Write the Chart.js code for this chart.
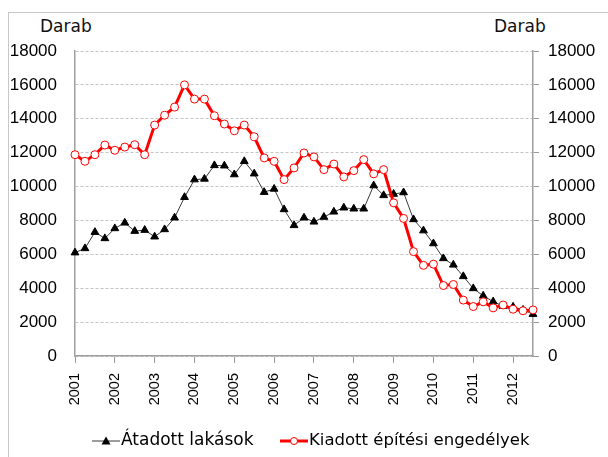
<!DOCTYPE html>
<html>
<head>
<meta charset="utf-8">
<script src="https://cdn.jsdelivr.net/npm/chart.js@4"></script>
<style>
    body { margin: 0; background: #fff; }
    #wrap { position: relative; width: 608px; height: 457px; overflow: hidden; }
    #frame { position: absolute; left: 8px; top: 12px; width: 620px; height: 470px; border-left: 1px solid #c8c8c8; border-top: 1px solid #c8c8c8; }
    .unit { position: absolute; top: 16px; font: 17px 'DejaVu Sans', sans-serif; color: #111; }
    canvas { position: absolute; left: 0; top: 0; }
</style>
</head>
<body>
<div id="wrap">
    <div id="frame"></div>
    <div class="unit" style="left:40px">Darab</div>
    <div class="unit" style="left:494px">Darab</div>
    <canvas id="lakasChart" width="608" height="457"></canvas>
</div>
<script>

// negyedéves adatok, 2001 Q1 - 2012 Q3
const years = ['2001', '2002', '2003', '2004', '2005', '2006', '2007', '2008', '2009', '2010', '2011', '2012'];
const quarterCount = 47;

const atadottLakasok = [
    6100, 6350, 7310, 6940, 7530, 7860, 7370, 7430,
    7040, 7470, 8160, 9370, 10410, 10450, 11250, 11230,
    10710, 11490, 10760, 9670, 9860, 8650, 7710, 8160,
    7920, 8200, 8510, 8750, 8690, 8690, 10060, 9480,
    9560, 9650, 8060, 7400, 6640, 5760, 5380, 4700,
    3990, 3550, 3210, 2940, 2900, 2720, 2470
];

const kiadottEngedelyek = [
    11880, 11490, 11880, 12450, 12140, 12330, 12470, 11880,
    13630, 14210, 14690, 16000, 15160, 15160, 14180, 13690,
    13290, 13630, 12940, 11690, 11490, 10410, 11100, 11980,
    11750, 11000, 11330, 10570, 10940, 11590, 10750, 11000,
    9040, 8120, 6160, 5350, 5420, 4160, 4220, 3300,
    2920, 3200, 2840, 3010, 2760, 2670, 2720
];

const yTicks = [0, 2000, 4000, 6000, 8000, 10000, 12000, 14000, 16000, 18000];

const labels = [];
for (let i = 0; i < quarterCount; i++) {
    labels.push(i % 4 === 0 ? years[i / 4] : '');
}

const plainNumber = value => String(value);

// jelmagyarázat: vonal + marker, a diagram alatt
const bottomLegend = {
    id: 'bottomLegend',
    afterDraw(chart) {
        const g = chart.ctx;
        const y = 441;
        const sets = chart.data.datasets;
        const starts = [92, 280];
        g.save();
        sets.forEach((ds, i) => {
            const x0 = starts[i];
            g.strokeStyle = ds.borderColor;
            g.lineWidth = ds.borderWidth;
            g.beginPath();
            g.moveTo(x0, y);
            g.lineTo(x0 + 28, y);
            g.stroke();
            g.lineWidth = 1;
            if (ds.pointStyle === 'triangle') {
                g.fillStyle = '#000';
                g.beginPath();
                g.moveTo(x0 + 14, y - 4.5);
                g.lineTo(x0 + 18.5, y + 3.5);
                g.lineTo(x0 + 9.5, y + 3.5);
                g.closePath();
                g.fill();
            } else {
                g.fillStyle = '#fff';
                g.strokeStyle = ds.pointBorderColor;
                g.beginPath();
                g.arc(x0 + 14, y, 3.5, 0, Math.PI * 2);
                g.fill();
                g.stroke();
            }
            g.fillStyle = '#000';
            g.font = (i === 0 ? '17px' : '16.5px') + " 'DejaVu Sans'";
            g.textAlign = 'left';
            g.textBaseline = 'middle';
            g.fillText(ds.label, x0 + 29, y);
        });
        g.restore();
    }
};

const ctx = document.getElementById('lakasChart').getContext('2d');

new Chart(ctx, {
    type: 'line',
    data: {
        labels: labels,
        datasets: [
            {
                label: 'Átadott lakások',
                data: atadottLakasok,
                borderColor: '#3a3a3a',
                borderWidth: 1,
                pointStyle: 'triangle',
                pointRadius: 4.5,
                pointBackgroundColor: '#000',
                pointBorderColor: '#000',
                pointBorderWidth: 1,
                tension: 0,
                order: 2,
                yAxisID: 'y'
            },
            {
                label: 'Kiadott építési engedélyek',
                data: kiadottEngedelyek,
                borderColor: '#ff0000',
                borderWidth: 3,
                pointStyle: 'circle',
                pointRadius: 4,
                pointBackgroundColor: '#fff',
                pointBorderColor: '#ff0000',
                pointBorderWidth: 1,
                tension: 0,
                order: 1,
                yAxisID: 'y'
            }
        ]
    },
    options: {
        responsive: false,
        animation: false,
        layout: {
            padding: { top: 51, left: 0, right: 0, bottom: 0 }
        },
        plugins: {
            tooltip: { enabled: false },
            legend: { display: false }
        },
        scales: {
            x: {
                offset: false,
                grid: {
                    drawOnChartArea: false,
                    drawTicks: true,
                    tickLength: 7,
                    tickColor: function(c) {
                        return c.index % 4 === 0 ? '#999' : 'rgba(0,0,0,0)';
                    }
                },
                border: { color: '#a0a0a0', width: 1.5 },
                ticks: {
                    autoSkip: false,
                    maxRotation: 90,
                    minRotation: 90,
                    padding: 10,
                    color: '#000',
                    font: { family: 'Liberation Sans', size: 14.5 }
                },
                afterFit: function(scale) { scale.height = 101; }
            },
            y: {
                position: 'left',
                min: 0,
                max: 18000,
                afterBuildTicks: function(scale) {
                    scale.ticks = yTicks.map(v => ({ value: v }));
                },
                grid: {
                    color: '#c4c4c4',
                    lineWidth: 1,
                    drawTicks: false
                },
                border: { color: '#a0a0a0', width: 1.5, dash: [3, 2] },
                ticks: {
                    padding: 18,
                    color: '#000',
                    font: { family: 'Liberation Sans', size: 17 },
                    callback: plainNumber
                },
                afterFit: function(scale) { scale.width = 75; }
            },
            y2: {
                position: 'right',
                min: 0,
                max: 18000,
                afterBuildTicks: function(scale) {
                    scale.ticks = yTicks.map(v => ({ value: v }));
                },
                grid: {
                    drawOnChartArea: false,
                    tickLength: 6,
                    tickColor: '#999'
                },
                border: { color: '#a0a0a0', width: 1.5 },
                ticks: {
                    padding: 9,
                    color: '#000',
                    font: { family: 'Liberation Sans', size: 17 },
                    callback: plainNumber
                },
                afterFit: function(scale) { scale.width = 75; }
            }
        }
    },
    plugins: [bottomLegend]
});
</script>
</body>
</html>
